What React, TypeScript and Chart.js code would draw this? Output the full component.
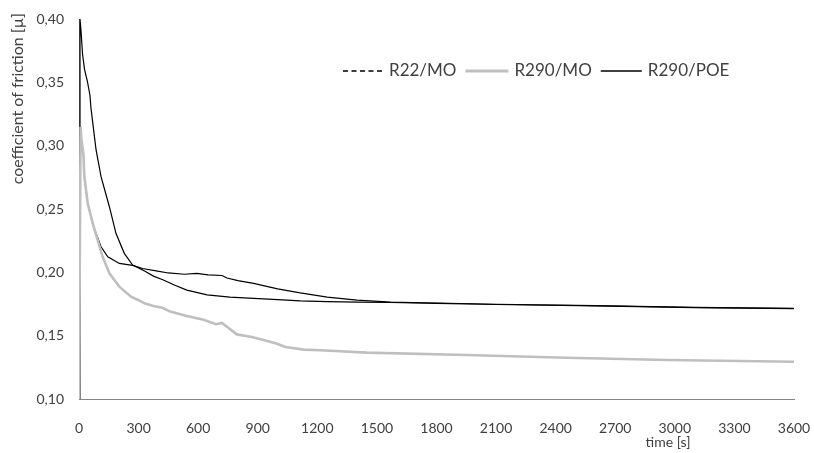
import React, { useEffect, useRef } from 'react';
import { Chart, registerables } from 'chart.js';

Chart.register(...registerables);

const FONT = 'Lato';
const TEXT = '#404040';
const AXIS = '#868686';

const yTitle = 'coefficient of friction [µ]';
const xTitle = 'time [s]';

// R22/MO (dashed in legend, dense black line)
const r22Times = [0, 8, 12, 22, 27, 44, 69, 86, 111, 145, 203, 270, 320, 388, 450, 530, 593, 650, 720, 745, 800, 879, 1000, 1114, 1250, 1400, 1570, 1800, 2100, 2600, 3100, 3600];
const r22Values = [0.10, 0.315, 0.305, 0.294, 0.2755, 0.2544, 0.2387, 0.2308, 0.2202, 0.2123, 0.207, 0.2055, 0.203, 0.2012, 0.1995, 0.1985, 0.1992, 0.198, 0.1975, 0.1955, 0.1935, 0.1913, 0.187, 0.1838, 0.1805, 0.178, 0.1765, 0.1758, 0.1748, 0.1737, 0.1724, 0.1715];

// R290/MO (grey)
const r290moTimes = [0, 8, 12, 22, 27, 44, 69, 94, 119, 153, 203, 262, 300, 330, 375, 420, 459, 543, 627, 690, 720, 745, 795, 870, 929, 990, 1040, 1131, 1215, 1450, 1950, 2455, 2960, 3600];
const r290moValues = [0.10, 0.315, 0.305, 0.294, 0.2755, 0.2544, 0.2387, 0.2255, 0.2123, 0.1992, 0.1887, 0.1808, 0.178, 0.1755, 0.1735, 0.172, 0.169, 0.1655, 0.1625, 0.159, 0.16, 0.157, 0.151, 0.149, 0.1466, 0.144, 0.141, 0.139, 0.1385, 0.1366, 0.1347, 0.1326, 0.1308, 0.1294];

// R290/POE (solid black)
const r290poeTimes = [0, 5, 10, 18, 28, 42, 55, 60, 86, 111, 153, 186, 228, 270, 300, 330, 375, 425, 480, 543, 645, 760, 880, 1000, 1114, 1250, 1400, 1570, 1800, 2100, 2600, 3100, 3600];
const r290poeValues = [0.10, 0.40, 0.391, 0.372, 0.36, 0.351, 0.34, 0.33, 0.2966, 0.2755, 0.2518, 0.2308, 0.215, 0.2058, 0.2035, 0.201, 0.197, 0.194, 0.19, 0.186, 0.1822, 0.1805, 0.1795, 0.1785, 0.1774, 0.1768, 0.1765, 0.1762, 0.1755, 0.1746, 0.1735, 0.1722, 0.1713];

const seriesLabels = ['R22/MO', 'R290/MO', 'R290/POE'];

const toPoints = (t: number[], v: number[]) => t.map((x, i) => ({ x, y: v[i] }));

const legendPlugin = {
  id: 'customLegend',
  afterDraw(chart: any) {
    const ctx = chart.ctx as CanvasRenderingContext2D;
    const { left } = chart.chartArea;
    let x = left + 264;
    const y = 71;
    ctx.save();
    ctx.font = `17px ${FONT}`;
    ctx.textBaseline = 'middle';
    ctx.textAlign = 'left';
    chart.data.datasets.forEach((ds: any) => {
      ctx.beginPath();
      ctx.setLineDash(ds.legendDash || []);
      ctx.strokeStyle = ds.borderColor;
      ctx.lineWidth = ds.legendWidth;
      ctx.moveTo(x, y);
      ctx.lineTo(x + ds.legendLen, y);
      ctx.stroke();
      ctx.setLineDash([]);
      x += ds.legendLen + 6;
      ctx.fillStyle = TEXT;
      ctx.fillText(ds.label, x, y);
      x += ctx.measureText(ds.label).width + 9;
    });
    ctx.restore();
  },
};

const titlesPlugin = {
  id: 'axisTitles',
  afterDraw(chart: any) {
    const ctx = chart.ctx as CanvasRenderingContext2D;
    const { top, right } = chart.chartArea;
    ctx.save();
    ctx.fillStyle = TEXT;
    ctx.textBaseline = 'middle';
    ctx.save();
    ctx.font = `16px ${FONT}`;
    ctx.translate(18, top - 6);
    ctx.rotate(-Math.PI / 2);
    ctx.textAlign = 'right';
    ctx.fillText(yTitle, 0, 0);
    ctx.restore();
    ctx.font = `14px ${FONT}`;
    ctx.textAlign = 'center';
    ctx.fillText(xTitle, right - 126, 442);
    ctx.restore();
  },
};

export default function App() {
  const ref = useRef<HTMLCanvasElement>(null);
  useEffect(() => {
    document.body.style.margin = '0';
    const chart = new Chart(ref.current!, {
      type: 'line',
      data: {
        datasets: [
          {
            label: seriesLabels[0],
            data: toPoints(r22Times, r22Values),
            borderColor: '#000000',
            borderWidth: 1.2,
            pointRadius: 0,
            tension: 0,
            order: 1,
            legendDash: [5, 3.5],
            legendWidth: 1.3,
            legendLen: 40,
          } as any,
          {
            label: seriesLabels[1],
            data: toPoints(r290moTimes, r290moValues),
            borderColor: '#bfbfbf',
            borderWidth: 2.6,
            pointRadius: 0,
            tension: 0,
            order: 0,
            legendWidth: 3,
            legendLen: 43,
          } as any,
          {
            label: seriesLabels[2],
            data: toPoints(r290poeTimes, r290poeValues),
            borderColor: '#000000',
            borderWidth: 1.2,
            pointRadius: 0,
            tension: 0,
            order: 1,
            legendWidth: 1.5,
            legendLen: 41,
          } as any,
        ],
      },
      options: {
        animation: false,
        responsive: false,
        events: [],
        layout: { padding: { top: 19, right: 20, bottom: 0, left: 0 } },
        plugins: { legend: { display: false }, tooltip: { enabled: false } },
        scales: {
          x: {
            type: 'linear',
            min: 0,
            max: 3600,
            grid: { display: false, drawTicks: false },
            border: { display: true, color: AXIS, width: 1 },
            ticks: {
              stepSize: 300,
              autoSkip: false,
              maxRotation: 0,
              padding: 21,
              color: TEXT,
              font: { family: FONT, size: 14 },
              callback: (v: any) => String(v),
            },
            afterFit: (s: any) => {
              s.height = 54;
              s.paddingLeft = 0;
              s.paddingRight = 0;
            },
          },
          y: {
            min: 0.1,
            max: 0.4,
            grid: { display: false, drawTicks: false },
            border: { display: true, color: AXIS, width: 1 },
            ticks: {
              stepSize: 0.05,
              padding: 15,
              color: TEXT,
              font: { family: FONT, size: 14 },
              callback: (v: any) => Number(v).toFixed(2).replace('.', ','),
            },
            afterFit: (s: any) => {
              s.width = 79;
              s.paddingTop = 0;
              s.paddingBottom = 0;
            },
          },
        },
      },
      plugins: [legendPlugin, titlesPlugin],
    });
    return () => chart.destroy();
  }, []);
  return (
    <div style={{ width: 814, height: 453 }}>
      <canvas ref={ref} width={814} height={453} />
    </div>
  );
}
